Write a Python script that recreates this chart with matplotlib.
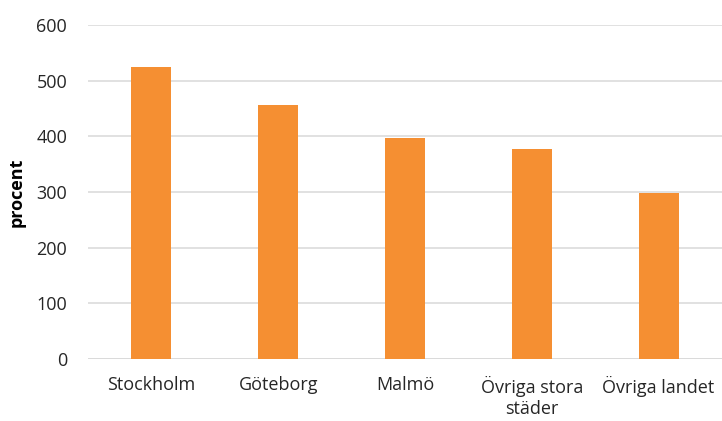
import matplotlib.pyplot as plt

# data
regions = ["Stockholm", "Göteborg", "Malmö", "Övriga stora\nstäder", "Övriga landet"]
values = [525, 456, 397, 377, 298]
yticks = [0, 100, 200, 300, 400, 500, 600]

plt.rcParams['font.family'] = ['Open Sans', 'DejaVu Sans']

fig = plt.figure(figsize=(7.22, 4.21), dpi=100)
ax = fig.add_axes([88 / 722, 1 - 359 / 421, 634 / 722, 334 / 421])

x = range(len(regions))
ax.bar(x, values, width=0.315, color='#F58F32', zorder=2)

ax.set_xlim(-0.5, len(regions) - 0.5)
ax.set_ylim(0, 600)
ax.set_yticks(yticks)
ax.set_xticks(list(x))
ax.set_xticklabels(regions, fontsize=13, color='#262626', linespacing=1.25)
ax.tick_params(axis='y', labelsize=13, labelcolor='#262626', length=0, pad=15)
ax.tick_params(axis='x', length=0, pad=12)
ax.grid(axis='y', color='#d9d9d9', linewidth=1.1, zorder=0)
for s in ax.spines.values():
    s.set_visible(False)
ax.axhline(0, color='#d9d9d9', linewidth=1.1, zorder=1)

ax.set_ylabel('procent', fontsize=13, fontweight='bold', color='#000000')
ax.yaxis.set_label_coords(-62 / 634, 0.5)

fig.savefig('out.png', dpi=100)
